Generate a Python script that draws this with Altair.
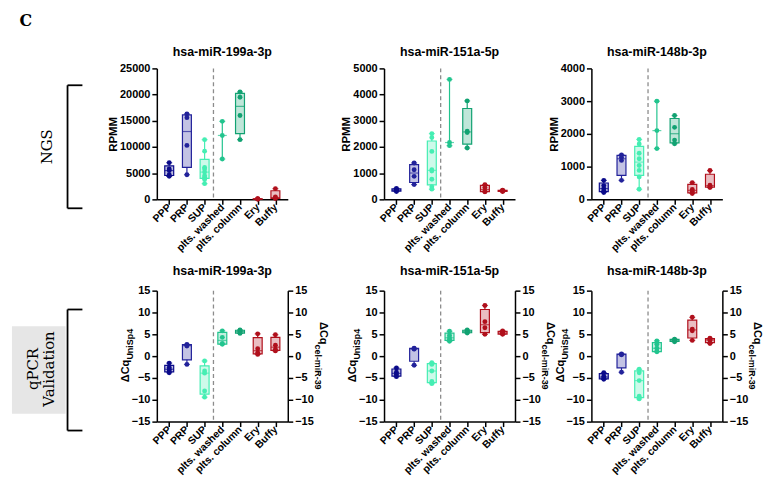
import json
import altair as alt
import pandas as pd
import numpy as np

groups = ["PPP", "PRP", "SUP", "plts. washed", "plts. column", "Ery", "Buffy"]
colors = ["#0b0b8a", "#22229a", "#45eeb3", "#22c48e", "#12a272", "#b0101c", "#b0101c"]

titles = ["hsa-miR-199a-3p", "hsa-miR-151a-5p", "hsa-miR-148b-3p"]

# NGS (RPMM)
ngs_199a = [
    [7000, 5800, 5500, 4700, 4400],
    [16300, 15600, 10300, 4700],
    [11400, 9200, 6100, 5800, 5200, 4500, 4200, 3800, 3000],
    [14900, 12200, 7700],
    [20500, 19500, 16000, 11400],
    [120, 90, 60, 40],
    [2050, 450, 250, 150],
]
ngs_151a = [
    [420, 380, 350, 330, 300],
    [1390, 1130, 880, 565],
    [2510, 2360, 1830, 1130, 1080, 770, 480, 390],
    [4580, 2170, 2050],
    [3760, 2600, 2550, 1960],
    [560, 450, 300, 290],
    [350, 330, 320, 300],
]
ngs_148b = [
    [580, 420, 330, 260, 210],
    [1360, 1290, 1190, 580],
    [1830, 1690, 1410, 1240, 1035, 885, 685, 310],
    [3000, 2100, 1550],
    [2560, 2200, 1810, 1700],
    [510, 300, 250, 180],
    [880, 430, 400, 360],
]
ngs_max = [25000, 5000, 4000]
ngs_step = [5000, 1000, 1000]

# qPCR (delta Cq)
q_199a = [
    [-1.6, -2.6, -3.0, -3.4, -3.8],
    [2.7, 2.5, 2.3, -1.9],
    [-1.1, -3.4, -3.9, -8.0, -9.4],
    [5.8, 4.3, 2.9, 2.7],
    [6.0, 5.7, 5.5, 5.2],
    [5.1, 1.7, 0.8, 0.4],
    [4.9, 2.5, 1.6, 1.2],
]
q_151a = [
    [-2.7, -3.7, -4.2, -4.7],
    [1.8, 1.7, 1.6, -2.1],
    [-1.5, -1.9, -3.4, -5.8, -6.3],
    [5.7, 4.8, 4.2, 3.8, 3.4],
    [6.0, 5.7, 5.5, 5.3],
    [11.6, 7.9, 6.5, 5.0],
    [5.8, 5.5, 5.3, 5.1, 5.0],
]
q_148b = [
    [-3.8, -4.6, -5.0, -5.3],
    [0.5, 0.4, 0.3, -3.7],
    [-3.0, -3.8, -5.6, -9.2, -9.8],
    [3.5, 2.7, 1.8, 1.1, 1.0],
    [3.9, 3.7, 3.5, 3.3],
    [8.9, 6.2, 5.8, 3.6],
    [4.1, 3.8, 3.6, 2.9],
]

W, H = 132, 132
FONT = "Liberation Sans"
SERIF = "DejaVu Serif"
dummy = pd.DataFrame({"a": [0]})


def long_df(vals):
    rows = []
    for i, (g, v) in enumerate(zip(groups, vals)):
        for x in v:
            rows.append({"group": g, "idx": i, "value": x})
    return pd.DataFrame(rows)


def stats_df(vals):
    rows = []
    for i, (g, v) in enumerate(zip(groups, vals)):
        a = np.array(v, float)
        q1, med, q3 = np.percentile(a, [25, 50, 75], method="weibull")
        hasbox = len(a) >= 4
        if not hasbox:
            q1 = q3 = med
        rows.append(dict(group=g, idx=i, lo=a.min(), q1=q1, med=med, q3=q3,
                         hi=a.max(), hasbox=hasbox))
    return pd.DataFrame(rows)


label_expr = json.dumps(groups) + "[datum.value]"


def x_enc(field="idx"):
    return alt.X(f"{field}:Q",
                 scale=alt.Scale(domain=[-0.42, 6.42], nice=False, zero=False,
                                 range=[0, W]),
                 axis=alt.Axis(values=list(range(7)), labelExpr=label_expr,
                               labelAngle=315, labelAlign="right",
                               labelBaseline="middle", labelPadding=1,
                               labelOverlap=False, labelFlush=False,
                               title=None, grid=False),
                 title=None)


def text_layer(t, x, y, size, angle=0, weight="bold", font=FONT):
    return alt.Chart(pd.DataFrame({"t": [t]})).mark_text(
        font=font, fontSize=size, fontWeight=weight, angle=angle,
        align="center", baseline="middle", color="black"
    ).encode(text="t:N", x=alt.value(x), y=alt.value(y))


def panel(vals, title, ymin, ymax, ystep, kind, gw, extra=()):
    pts = long_df(vals)
    st = stats_df(vals)
    boxes = st[st["hasbox"]]
    ticks = list(range(ymin, ymax + 1, ystep))
    yscale = alt.Scale(domain=[ymin, ymax], nice=False, zero=False)
    if kind == "ngs":
        yaxis = alt.Axis(values=ticks, format="d", title="RPMM", titleFontSize=11.5,
                         titleFontWeight="bold", titlePadding=1, grid=False)
    else:
        yaxis = alt.Axis(values=ticks, format="d", title=None, grid=False)

    def Y(f):
        return alt.Y(f"{f}:Q", scale=yscale, axis=yaxis,
                     title=None if kind != "ngs" else "RPMM")

    cscale = alt.Scale(domain=groups, range=colors)
    col = alt.Color("group:N", scale=cscale, legend=None)
    strk = alt.Stroke("group:N", scale=cscale, legend=None)

    box = alt.Chart(boxes).mark_bar(size=9, fillOpacity=0.27, strokeWidth=1.2).encode(
        x=x_enc(), y=Y("q1"), y2="q3:Q", fill=col, stroke=strk)
    wlo = alt.Chart(st).mark_rule(strokeWidth=1.2).encode(
        x=x_enc(), y=Y("lo"), y2="q1:Q", color=col)
    whi = alt.Chart(st).mark_rule(strokeWidth=1.2).encode(
        x=x_enc(), y=Y("q3"), y2="hi:Q", color=col)
    med = alt.Chart(st).mark_tick(orient="horizontal", size=9, thickness=1.2).encode(
        x=x_enc(), y=Y("med"), color=col)
    cap_lo = alt.Chart(st).mark_tick(orient="horizontal", size=6, thickness=1.2).encode(
        x=x_enc(), y=Y("lo"), color=col)
    cap_hi = alt.Chart(st).mark_tick(orient="horizontal", size=6, thickness=1.2).encode(
        x=x_enc(), y=Y("hi"), color=col)
    dots = alt.Chart(pts).mark_circle(size=24, opacity=1).encode(
        x=x_enc(), y=Y("value"), color=col)
    dash = alt.Chart(pd.DataFrame({"sep": [2.5]})).mark_rule(
        strokeDash=[4, 3], color="#8c8c8c", strokeWidth=1.3).encode(x=x_enc("sep"))

    ty = -16 if kind == "ngs" else -20
    ttl = text_layer(title, W / 2, ty, 12.5)
    inner = alt.layer(dash, box, wlo, whi, med, cap_lo, cap_hi, dots, ttl, *extra)

    if kind == "ngs":
        ch = inner
    else:
        lt = [
            text_layer("ΔCq", -31, 81, 11, angle=270),
            text_layer("UniSp4", -27, 54, 9, angle=270),
            text_layer("ΔCq", W + 35, 43, 11, angle=90),
            text_layer("cel-miR-39", W + 30, 77, 9, angle=90),
        ]
        inner = alt.layer(inner, *lt)
        right = alt.Chart(pts).mark_point(opacity=0).encode(
            x=x_enc(),
            y=alt.Y("value:Q", scale=yscale,
                    axis=alt.Axis(orient="right", values=ticks, format="d",
                                  title=None, grid=False, offset=W - gw)))
        ch = alt.layer(inner, right).resolve_scale(y="independent")
    return ch.properties(width=gw, height=H)


def rule(x, y, x2=None, y2=None):
    enc = dict(x=alt.value(x), y=alt.value(y))
    if x2 is not None:
        enc["x2"] = alt.value(x2)
    if y2 is not None:
        enc["y2"] = alt.value(y2)
    return alt.Chart(dummy).mark_rule(color="black", strokeWidth=1.8).encode(**enc)


top_extra = [
    text_layer("C", -132, -48, 16, weight="bold", font=SERIF),
    text_layer("NGS", -111, 79, 15, angle=270, weight="normal", font=SERIF),
    rule(-90, 17, y2=141),
    rule(-90, 17, x2=-75),
    rule(-90, 141, x2=-75),
]
bot_extra = [
    alt.Chart(dummy).mark_rect(color="#e6e6e6").encode(
        x=alt.value(-146), x2=alt.value(-92), y=alt.value(36), y2=alt.value(124)),
    text_layer("qPCR", -125, 79, 15, angle=270, weight="normal", font=SERIF),
    text_layer("Validation", -109, 79, 15, angle=270, weight="normal", font=SERIF),
    rule(-90, 19, y2=141),
    rule(-90, 19, x2=-75),
    rule(-90, 141, x2=-75),
]

ngs_vals = [ngs_199a, ngs_151a, ngs_148b]
q_vals = [q_199a, q_151a, q_148b]
group_w = [152, 132, 132]

tops = [panel(ngs_vals[i], titles[i], 0, ngs_max[i], ngs_step[i], "ngs", group_w[i],
              top_extra if i == 0 else ()) for i in range(3)]
bots = [panel(q_vals[i], titles[i], -15, 15, 5, "q", group_w[i],
              bot_extra if i == 0 else ()) for i in range(3)]

chart = alt.concat(*tops, *bots, columns=3, spacing={"row": 92, "column": 77},
                   bounds="flush").properties(
    padding={"left": 4, "top": 3, "right": 5, "bottom": 5},
    background="white",
).configure_view(stroke=None).configure_axis(
    domainColor="black", domainWidth=1.5, tickColor="black", tickWidth=1.5,
    tickSize=5, labelFont=FONT, labelFontWeight="bold", labelFontSize=11,
    labelColor="black", titleFont=FONT, titleColor="black", grid=False,
    labelPadding=2,
).configure_axisX(labelFontSize=10.5)

chart.save("out.html", embed_options={"renderer": "svg", "actions": False})
